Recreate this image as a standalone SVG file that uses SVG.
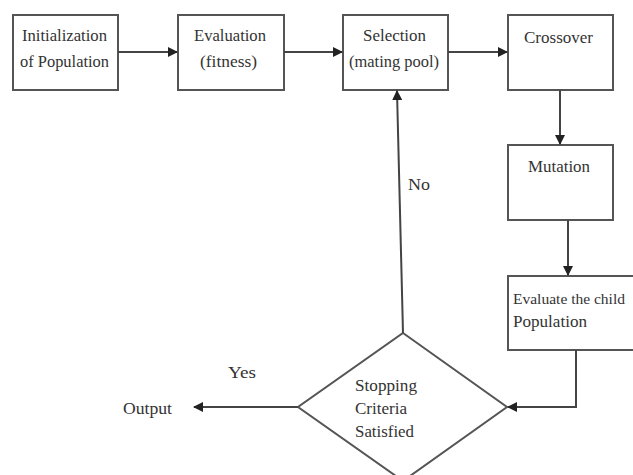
<svg xmlns="http://www.w3.org/2000/svg" width="633" height="475" viewBox="0 0 633 475">
<defs>
<style>
.box{fill:#fff;stroke:#555;stroke-width:2}
.ln{fill:none;stroke:#444;stroke-width:2}
text{font-family:"Liberation Serif","Times New Roman",serif;font-size:17px;fill:#333}
.c{text-anchor:middle}
</style>
<marker id="ah" viewBox="0 0 10 10" refX="9" refY="5" markerWidth="5" markerHeight="5" orient="auto">
<path d="M0,0 L10,5 L0,10 z" fill="#222"/>
</marker>
</defs>
<rect width="633" height="475" fill="#fff"/>
<g id="init"><rect class="box" x="13" y="15" width="105" height="75"/>
<text x="22" y="41" textLength="85" lengthAdjust="spacingAndGlyphs">Initialization</text><text x="20" y="67" textLength="89" lengthAdjust="spacingAndGlyphs">of Population</text></g>
<g id="eval"><rect class="box" x="178" y="15" width="106" height="75"/>
<text x="194" y="41" textLength="72" lengthAdjust="spacingAndGlyphs">Evaluation</text><text x="200" y="67" textLength="57" lengthAdjust="spacingAndGlyphs">(fitness)</text></g>
<g id="select"><rect class="box" x="343" y="15" width="105" height="75"/>
<text x="363" y="41" textLength="63" lengthAdjust="spacingAndGlyphs">Selection</text><text x="349" y="67" textLength="90" lengthAdjust="spacingAndGlyphs">(mating pool)</text></g>
<g id="cross"><rect class="box" x="508" y="15" width="105" height="75"/>
<text x="524" y="43" textLength="69" lengthAdjust="spacingAndGlyphs">Crossover</text></g>
<g id="mut"><rect class="box" x="508" y="145" width="105" height="75"/>
<text x="528" y="172" textLength="62" lengthAdjust="spacingAndGlyphs">Mutation</text></g>
<g id="evalchild"><rect class="box" x="508" y="276" width="140" height="74"/>
<text x="513" y="304" style="font-size:15px" textLength="112" lengthAdjust="spacingAndGlyphs">Evaluate the child</text><text x="513" y="327" textLength="74" lengthAdjust="spacingAndGlyphs">Population</text></g>
<g id="stop"><polygon class="box" points="403,333 507,407 403,481 298,407"/>
<text x="355" y="391" textLength="62" lengthAdjust="spacingAndGlyphs">Stopping</text><text x="355" y="414" textLength="52" lengthAdjust="spacingAndGlyphs">Criteria</text><text x="355" y="437" textLength="59" lengthAdjust="spacingAndGlyphs">Satisfied</text></g>
<g id="output"><text x="123" y="414" textLength="49" lengthAdjust="spacingAndGlyphs">Output</text></g>
<g id="connectors">
<line class="ln" x1="118" y1="52" x2="177" y2="52" marker-end="url(#ah)"/>
<line class="ln" x1="284" y1="52" x2="342" y2="52" marker-end="url(#ah)"/>
<line class="ln" x1="448" y1="52" x2="507" y2="52" marker-end="url(#ah)"/>
<line class="ln" x1="560" y1="90" x2="560" y2="144" marker-end="url(#ah)"/>
<line class="ln" x1="568" y1="220" x2="568" y2="275" marker-end="url(#ah)"/>
<polyline class="ln" points="576,350 576,407 508,407" marker-end="url(#ah)"/>
<line class="ln" x1="403" y1="333" x2="397" y2="91" marker-end="url(#ah)"/>
<line class="ln" x1="298" y1="407" x2="194" y2="407" marker-end="url(#ah)"/>
<text x="408" y="190" textLength="22" lengthAdjust="spacingAndGlyphs">No</text>
<text x="228" y="378" textLength="28" lengthAdjust="spacingAndGlyphs">Yes</text>
</g>
</svg>
